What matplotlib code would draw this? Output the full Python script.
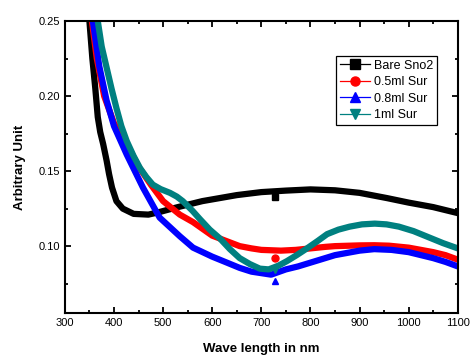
import matplotlib
matplotlib.use('Agg')
import matplotlib.pyplot as plt
import numpy as np
from matplotlib.ticker import MultipleLocator

plt.rcParams['font.family'] = ['Liberation Sans', 'DejaVu Sans']

# wavelength (nm) / absorbance
bare_x = [350, 356, 362, 367, 372, 378, 385, 390, 396, 405, 418, 440, 470, 490, 530,
          580, 650, 700, 750, 800, 850, 900, 956, 1000, 1050, 1100]
bare_y = [0.25, 0.225, 0.205, 0.186, 0.176, 0.168, 0.157, 0.148, 0.139, 0.130, 0.125,
          0.1215, 0.121, 0.1225, 0.126, 0.130, 0.134, 0.136, 0.137, 0.1378, 0.1372,
          0.1355, 0.132, 0.129, 0.126, 0.122]

s05_x = [355, 365, 380, 400, 426, 450, 475, 500, 534, 561, 600, 620, 640, 656, 680,
         700, 740, 770, 800, 830, 850, 900, 930, 960, 1000, 1050, 1075, 1100]
s05_y = [0.25, 0.225, 0.200, 0.182, 0.168, 0.153, 0.141, 0.130, 0.121, 0.116, 0.107,
         0.1045, 0.102, 0.100, 0.0985, 0.0975, 0.097, 0.0975, 0.0985, 0.0995, 0.100,
         0.1005, 0.1006, 0.1003, 0.099, 0.096, 0.094, 0.091]

s08_x = [357, 370, 385, 400, 426, 459, 493, 534, 561, 600, 630, 656, 680, 700, 720,
         750, 775, 800, 825, 850, 875, 900, 930, 965, 1000, 1050, 1075, 1100]
s08_y = [0.25, 0.22, 0.197, 0.180, 0.161, 0.139, 0.119, 0.1066, 0.099, 0.093, 0.089,
         0.0855, 0.083, 0.082, 0.081, 0.0845, 0.0865, 0.089, 0.0915, 0.094, 0.0955,
         0.097, 0.098, 0.0975, 0.096, 0.092, 0.0895, 0.0865]

s1_x = [367, 375, 385, 395, 405, 415, 426, 440, 453, 466, 479, 495, 514, 528, 540,
        560, 575, 595, 616, 636, 656, 677, 697, 715, 735, 752, 772, 793, 815, 834,
        857, 880, 905, 931, 955, 980, 1010, 1040, 1070, 1100]
s1_y = [0.25, 0.233, 0.219, 0.205, 0.192, 0.180, 0.170, 0.160, 0.152, 0.146, 0.141,
        0.138, 0.1355, 0.133, 0.130, 0.1235, 0.118, 0.111, 0.105, 0.098, 0.092, 0.088,
        0.085, 0.0845, 0.087, 0.090, 0.094, 0.0985, 0.1035, 0.108, 0.111, 0.113,
        0.1145, 0.115, 0.1145, 0.113, 0.110, 0.106, 0.102, 0.0985]

# single symbol drawn by the original software on each trace
mark_x = 727
mark_y = [0.133, 0.092, 0.0765, 0.084]

labels = ['Bare Sno2', '0.5ml Sur', '0.8ml Sur', '1ml Sur']
colors = ['black', 'red', 'blue', '#008080']
markers = ['s', 'o', '^', 'v']

fig, ax = plt.subplots(figsize=(4.7, 3.56), dpi=100)
fig.subplots_adjust(left=0.138, right=0.974, top=0.941, bottom=0.121)

series = [(bare_x, bare_y), (s05_x, s05_y), (s08_x, s08_y), (s1_x, s1_y)]
for (x, y), c, m, lab, my in zip(series, colors, markers, labels, mark_y):
    ax.plot(x, y, color=c, lw=4.5, solid_joinstyle='round', solid_capstyle='round')
    ax.plot([mark_x], [my], ls='none', marker=m, color=c, ms=5)
    ax.plot([], [], color=c, lw=0.9, marker=m, ms=6.5, label=lab)

ax.set_xlim(300, 1100)
ax.set_ylim(0.0555, 0.25)
ax.xaxis.set_minor_locator(MultipleLocator(50))
ax.yaxis.set_minor_locator(MultipleLocator(0.025))
ax.tick_params(which='both', direction='in', top=True, right=True, labelsize=8, width=1.3)
ax.tick_params(which='major', length=4)
ax.tick_params(which='minor', length=2.5)
ax.set_xticks([300, 400, 500, 600, 700, 800, 900, 1000, 1100])
ax.set_yticks([0.10, 0.15, 0.20, 0.25])
ax.set_yticklabels(['0.10', '0.15', '0.20', '0.25'])
for s in ax.spines.values():
    s.set_linewidth(1.5)

ax.set_xlabel('Wave length in nm', fontsize=9.5, fontweight='bold', labelpad=11)
ax.set_ylabel('Arbitrary Unit', fontsize=9.5, fontweight='bold', labelpad=9)

leg = ax.legend(loc='upper right', bbox_to_anchor=(0.947, 0.88), fontsize=9,
                fancybox=False, edgecolor='black', framealpha=1, handlelength=2.4,
                borderpad=0.3, labelspacing=0.35, handletextpad=0.3, borderaxespad=0)
leg.get_frame().set_linewidth(0.9)

fig.savefig('out.png', dpi=100)
